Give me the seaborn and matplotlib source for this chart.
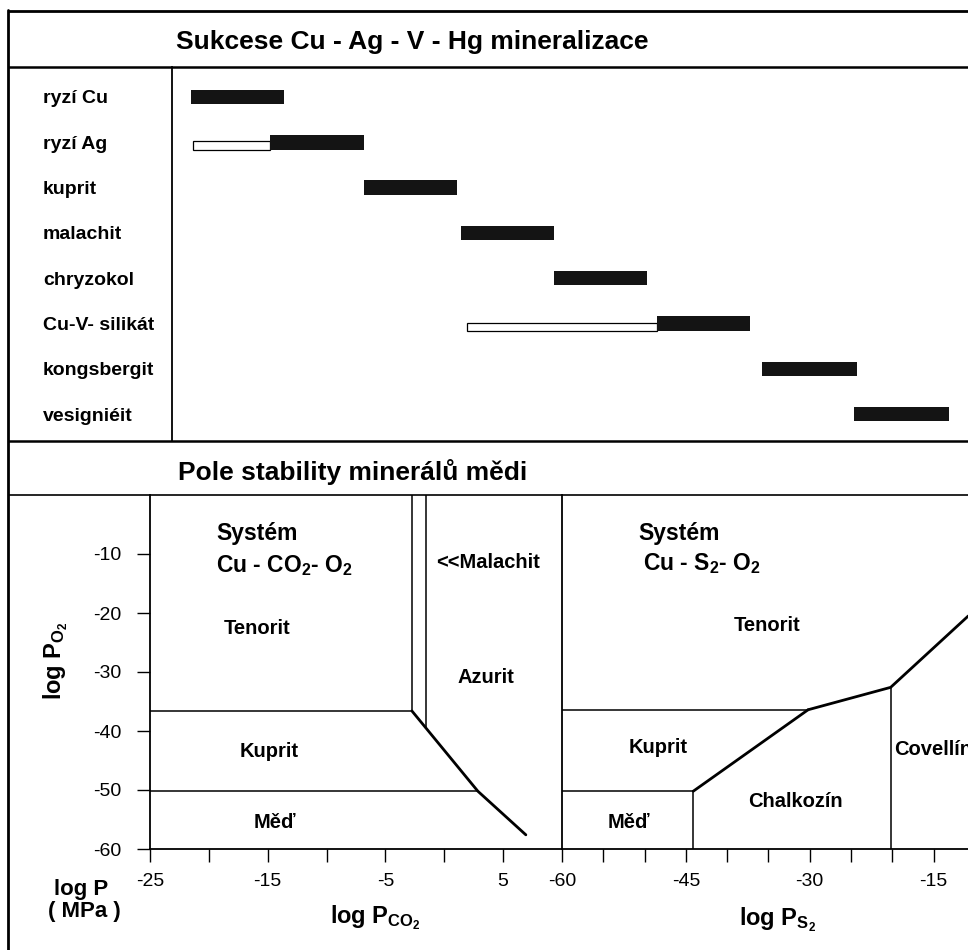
import numpy as np
import pandas as pd
import matplotlib
matplotlib.use("Agg")
import matplotlib.pyplot as plt
import seaborn as sns

# ---- succession of minerals (relative time units) ----
minerals = ['ryzí Cu', 'ryzí Ag', 'kuprit', 'malachit', 'chryzokol',
            'Cu-V- silikát', 'kongsbergit', 'vesigniéit']
main_start = [0.00, 0.85, 1.85, 2.89, 3.88, 4.98, 6.11, 7.09]
main_end = [1.00, 1.85, 2.85, 3.88, 4.88, 5.98, 7.12, 8.11]
# open bars = earlier, less certain part of the range
early_minerals = ['ryzí Ag', 'Cu-V- silikát']
early_start = [0.02, 2.95]
early_end = [0.85, 4.98]

# ---- system Cu - CO2 - O2 (x = log P_CO2, y = log P_O2) ----
co2_ten_kup_x = [-25, -2.75]
co2_ten_kup_y = [-36.6, -36.6]
co2_ten_mal_x = [-2.75, -2.75]
co2_ten_mal_y = [0, -36.6]
co2_mal_azu_x = [-1.54, -1.54]
co2_mal_azu_y = [0, -39.3]
co2_diag_x = [-2.75, 2.85, 6.93]
co2_diag_y = [-36.6, -50.2, -57.6]
co2_kup_med_x = [-25, 2.85]
co2_kup_med_y = [-50.2, -50.2]

co2_labels = ['Tenorit', '<<Malachit', 'Azurit', 'Kuprit', 'Měď']
co2_label_x = [-15.9, 3.7, 3.5, -14.9, -14.4]
co2_label_y = [-22.6, -11.4, -31.0, -43.5, -55.5]

# ---- system Cu - S2 - O2 (x = log P_S2, y = log P_O2) ----
s2_ten_kup_x = [-60, -30.2]
s2_ten_kup_y = [-36.4, -36.4]
s2_ten_low_x = [-30.2, -20.2, -10.8]
s2_ten_low_y = [-36.4, -32.6, -20.5]
s2_kup_chal_x = [-44.1, -30.2]
s2_kup_chal_y = [-50.2, -36.4]
s2_kup_med_x = [-60, -44.1]
s2_kup_med_y = [-50.2, -50.2]
s2_med_chal_x = [-44.1, -44.1]
s2_med_chal_y = [-60, -50.2]
s2_chal_cov_x = [-20.2, -20.2]
s2_chal_cov_y = [-60, -32.6]

s2_labels = ['Tenorit', 'Kuprit', 'Chalkozín', 'Měď']
s2_label_x = [-35.2, -48.3, -31.7, -51.9]
s2_label_y = [-22.2, -42.8, -52.0, -55.5]

sns.set_theme(style="white")
plt.rcParams['font.family'] = ['Liberation Sans', 'DejaVu Sans']
plt.rcParams['mathtext.default'] = 'regular'
for key in ['text.color', 'axes.labelcolor', 'xtick.color', 'ytick.color']:
    plt.rcParams[key] = 'black'

W, H = 968, 950
fig = plt.figure(figsize=(W / 100, H / 100), dpi=100)


def px_axes(x0, y0, x1, y1):
    # axes placed by pixel box (top-left origin)
    a = fig.add_axes([x0 / W, 1 - y1 / H, (x1 - x0) / W, (y1 - y0) / H])
    a.set_facecolor('none')
    return a


def frame(segments):
    rows = []
    for name, xs, ys, kind in segments:
        for x, y in zip(xs, ys):
            rows.append({'boundary': name, 'x': x, 'y': y, 'kind': kind})
    return pd.DataFrame(rows)


# background: frame lines and titles
bg = fig.add_axes([0, 0, 1, 1])
bg.set_xlim(0, W)
bg.set_ylim(H, 0)
bg.axis('off')
for yy, lw in [(11, 2.0), (67, 1.8), (441, 1.8), (495, 1.2)]:
    bg.plot([8, W], [yy, yy], color='black', lw=lw, solid_capstyle='butt')
bg.plot([8, 8], [10, H], color='black', lw=2.0)
bg.text(176, 49, 'Sukcese Cu - Ag - V - Hg mineralizace', fontsize=19,
        fontweight='bold', va='baseline')
bg.text(178, 480, 'Pole stability minerálů mědi', fontsize=19,
        fontweight='bold', va='baseline')
bg.text(81, 890, 'log P', fontsize=16, fontweight='bold', ha='center', va='center')
bg.text(84, 911, '( MPa )', fontsize=16, fontweight='bold', ha='center', va='center')
bg.text(56, 661, 'log P$_{O_2}$', fontsize=17, fontweight='bold', rotation=90,
        ha='center', va='center')
bg.text(375, 918, 'log P$_{CO_2}$', fontsize=17, fontweight='bold',
        ha='center', va='center')
bg.text(778, 920, 'log P$_{S_2}$', fontsize=17, fontweight='bold',
        ha='center', va='center')

# ---- Gantt of the succession ----
ax = px_axes(172, 67, W, 441)
pos = {m: i for i, m in enumerate(minerals)}
ep = np.array([pos[m] for m in early_minerals])
ax.barh(ep + 0.072, np.array(early_end) - np.array(early_start), left=early_start,
        height=0.18, color='white', edgecolor='black', linewidth=0.9)
ax.barh(np.arange(len(minerals)), np.array(main_end) - np.array(main_start),
        left=main_start, height=0.32, color='#141414', edgecolor='none')
ax.set_xlim(-0.203, 8.31)
ax.set_ylim(7.594, -0.662)
ax.set_xticks([])
ax.set_yticks(range(len(minerals)), minerals)
ax.tick_params(axis='y', length=0, pad=93, labelsize=14)
for t in ax.get_yticklabels():
    t.set_ha('left')
    t.set_fontweight('bold')
for s in ['top', 'right', 'bottom']:
    ax.spines[s].set_visible(False)
ax.spines['left'].set_color('black')
ax.spines['left'].set_linewidth(1.3)

# ---- phase diagrams ----
tick_kw = dict(direction='out', length=9.5, width=1.0, color='black',
               labelsize=14, pad=8)

ax1 = px_axes(150, 495, 562, 849)
df1 = frame([
    ('ten_kup', co2_ten_kup_x, co2_ten_kup_y, 'thin'),
    ('ten_mal', co2_ten_mal_x, co2_ten_mal_y, 'thin'),
    ('mal_azu', co2_mal_azu_x, co2_mal_azu_y, 'thin'),
    ('diag', co2_diag_x, co2_diag_y, 'thick'),
    ('kup_med', co2_kup_med_x, co2_kup_med_y, 'thin'),
])
sns.lineplot(data=df1, x='x', y='y', units='boundary', estimator=None, sort=False,
             size='kind', sizes={'thin': 1.1, 'thick': 2.0}, color='black',
             legend=False, ax=ax1)
ax1.set_xlim(-25, 10)
ax1.set_ylim(-60, 0)
ax1.set(xlabel='', ylabel='')
ax1.set_xticks(range(-25, 10, 5), ['-25', '', '-15', '', '-5', '', '5'])
ax1.set_yticks(range(-10, -61, -10), [str(v) for v in range(-10, -61, -10)])
ax1.tick_params(axis='both', bottom=True, left=True, **tick_kw)
ax1.tick_params(axis='y', pad=11)
for s in ['top', 'right']:
    ax1.spines[s].set_visible(False)
for s in ['left', 'bottom']:
    ax1.spines[s].set_color('black')
    ax1.spines[s].set_linewidth(1.3)
ax1.text(-19.4, -6.6, 'Systém', fontsize=16.5, fontweight='bold', va='center')
ax1.text(-19.4, -12.0, 'Cu - CO$_2$- O$_2$', fontsize=16.5, fontweight='bold', va='center')
for lab, x, y in zip(co2_labels, co2_label_x, co2_label_y):
    ax1.text(x, y, lab, fontsize=14.5, fontweight='bold', ha='center', va='center')

ax2 = px_axes(562, 495, W, 849)
df2 = frame([
    ('ten_kup', s2_ten_kup_x, s2_ten_kup_y, 'thin'),
    ('ten_low', s2_ten_low_x, s2_ten_low_y, 'thick'),
    ('kup_chal', s2_kup_chal_x, s2_kup_chal_y, 'thick'),
    ('kup_med', s2_kup_med_x, s2_kup_med_y, 'thin'),
    ('med_chal', s2_med_chal_x, s2_med_chal_y, 'thin'),
    ('chal_cov', s2_chal_cov_x, s2_chal_cov_y, 'thin'),
])
sns.lineplot(data=df2, x='x', y='y', units='boundary', estimator=None, sort=False,
             size='kind', sizes={'thin': 1.1, 'thick': 2.0}, color='black',
             legend=False, ax=ax2)
ax2.set_xlim(-60, -60 + (W - 562) / 8.258)
ax2.set_ylim(-60, 0)
ax2.set(xlabel='', ylabel='')
ax2.set_xticks(range(-60, -10, 5),
               ['-60', '', '', '-45', '', '', '-30', '', '', '-15'])
ax2.set_yticks([])
ax2.tick_params(axis='x', bottom=True, **tick_kw)
for s in ['top', 'right']:
    ax2.spines[s].set_visible(False)
for s in ['left', 'bottom']:
    ax2.spines[s].set_color('black')
    ax2.spines[s].set_linewidth(1.3)
ax2.text(-50.7, -6.5, 'Systém', fontsize=16.5, fontweight='bold', va='center')
ax2.text(-50.2, -11.6, 'Cu - S$_2$- O$_2$', fontsize=16.5, fontweight='bold', va='center')
for lab, x, y in zip(s2_labels, s2_label_x, s2_label_y):
    ax2.text(x, y, lab, fontsize=14.5, fontweight='bold', ha='center', va='center')
# the reference is cropped at the right edge, so this label runs off the page
ax2.text(-19.8, -43.2, 'Covellín', fontsize=14.5, fontweight='bold', ha='left',
         va='center', clip_on=False)

fig.savefig('out.png', dpi=100)
